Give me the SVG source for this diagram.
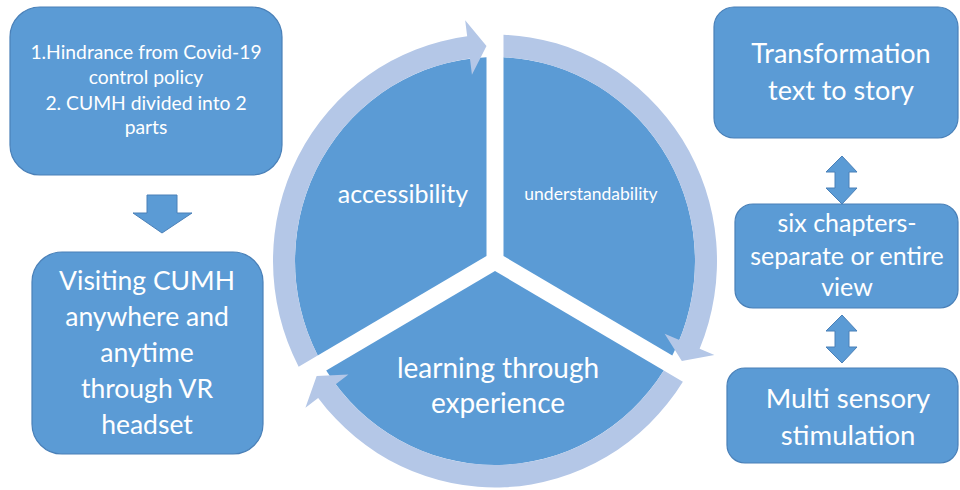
<svg xmlns="http://www.w3.org/2000/svg" xmlns:xlink="http://www.w3.org/1999/xlink" width="960" height="490" viewBox="0 0 960 490">
<defs>
<style>
.box{fill:#5B9BD5;stroke:#4A80B8;stroke-width:1.2}
.blk{fill:#5B9BD5;stroke:#4A80B8;stroke-width:1}
.seg{fill:#5B9BD5}
.ring{fill:#B4C7E7}
.t{font-family:Lato,"Open Sans","Liberation Sans",sans-serif;fill:#FFFFFF;text-anchor:middle}
</style>
<path id="slice" d="M -8.5 -4.91 L -177.29 92.55 A 200 200 0 0 1 -8.5 -199.82 Z"/>
<path id="cyc" d="M -196.36 103.56 A 222 222 0 0 1 -27.82 -220.25 L -29.83 -236.12 L -8.5 -210.83 L -23.06 -182.55 L -25.07 -198.42 A 200 200 0 0 0 -177.29 92.55 Z"/>
</defs>
<rect width="960" height="490" fill="#FFFFFF"/>

<g id="box-hindrance">
<rect class="box" x="10" y="7" width="272" height="168" rx="30"/>
<text class="t" font-size="19.3"><tspan x="146" y="59">1.Hindrance from Covid-19</tspan><tspan x="146" y="84">control policy</tspan><tspan x="146" y="110">2. CUMH divided into 2</tspan><tspan x="146" y="134">parts</tspan></text>
</g>

<g id="box-visiting">
<rect class="box" x="32" y="252" width="231" height="202" rx="30"/>
<text class="t" font-size="26.5"><tspan x="147" y="290">Visiting CUMH</tspan><tspan x="147" y="326">anywhere and</tspan><tspan x="147" y="362">anytime</tspan><tspan x="147" y="398">through VR</tspan><tspan x="147" y="434">headset</tspan></text>
</g>

<g id="seg-accessibility">
<use xlink:href="#slice" class="seg" transform="translate(495,261) scale(1,1.02)"/>
<text class="t" font-size="25" x="403" y="203">accessibility</text>
</g>
<g id="seg-understandability">
<use xlink:href="#slice" class="seg" transform="translate(495,261) scale(1,1.02) rotate(120)"/>
<text class="t" font-size="17.5" x="591" y="200">understandability</text>
</g>
<g id="seg-learning">
<use xlink:href="#slice" class="seg" transform="translate(495,261) scale(1,1.02) rotate(240)"/>
<text class="t" font-size="28"><tspan x="498" y="378">learning through</tspan><tspan x="498" y="413">experience</tspan></text>
</g>

<g id="box-transformation">
<rect class="box" x="714" y="7" width="244" height="131" rx="20"/>
<text class="t" font-size="27"><tspan x="841" y="63">Transformation</tspan><tspan x="841" y="100">text to story</tspan></text>
</g>
<g id="box-chapters">
<rect class="box" x="735" y="204" width="223" height="104" rx="18"/>
<text class="t" font-size="25"><tspan x="847" y="232">six chapters-</tspan><tspan x="847" y="265">separate or entire</tspan><tspan x="847" y="296">view</tspan></text>
</g>
<g id="box-multisensory">
<rect class="box" x="727" y="368" width="231" height="95" rx="18"/>
<text class="t" font-size="27.5"><tspan x="848" y="408">Multi sensory</tspan><tspan x="848" y="445">stimulation</tspan></text>
</g>

<g id="connectors">
<g transform="translate(495,261) scale(1,1.02)">
<use xlink:href="#cyc" class="ring"/>
<use xlink:href="#cyc" class="ring" transform="rotate(120)"/>
<use xlink:href="#cyc" class="ring" transform="rotate(240)"/>
</g>
<polygon class="blk" points="147,195 177,195 177,213 192,213 162,233 133,213 147,213"/>
<polygon class="blk" points="842,156 857,172 849,172 849,188 857,188 842,204 826,188 835,188 835,172 826,172"/>
<polygon class="blk" points="842,315 857,331 849,331 849,347 857,347 842,363 826,347 835,347 835,331 826,331"/>
</g>
</svg>
